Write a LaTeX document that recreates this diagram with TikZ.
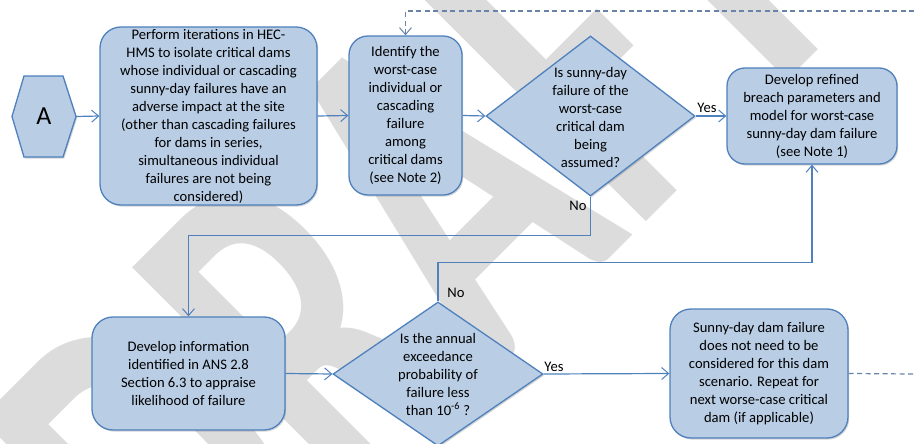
\documentclass[tikz,border=0pt]{standalone}
\usepackage{fontspec}
\setmainfont{Carlito}
\usetikzlibrary{arrows.meta,shapes.geometric,shadows,calc}

\definecolor{boxfill}{RGB}{185,205,229}
\definecolor{boxline}{RGB}{79,129,189}
\definecolor{wmark}{RGB}{220,220,220}
\definecolor{dashline}{RGB}{105,130,168}

\newcommand\bodyfont{\fontsize{14.6}{18}\selectfont}

\tikzset{
  shade box/.style={drop shadow={shadow xshift=1.2pt, shadow yshift=-1.6pt, opacity=0.28, fill=black!60}},
  procbox/.style={draw=boxline, fill=boxfill, line width=1.3pt, rounded corners=19pt,
    align=center, inner sep=0pt, font=\bodyfont, shade box},
  decision/.style={shape=diamond, draw=boxline, fill=boxfill, line width=1.3pt,
    inner sep=0pt, shade box},
  dtext/.style={align=center, inner sep=0pt, font=\bodyfont},
  tip/.style={-{Straight Barb[length=7pt,width=12pt,line width=1pt]}},
  conn/.style={draw=boxline, line width=1.2pt, tip},
  dashconn/.style={draw=dashline, line width=1.2pt, dash pattern=on 5pt off 3.5pt},
  lbl/.style={inner sep=0pt, anchor=base, font=\bodyfont},
}

\begin{document}
\begin{tikzpicture}[x=1pt,y=-1pt]
\useasboundingbox (0,0) rectangle (914,444);

% watermark behind the chart
\node[rotate=45, anchor=base, inner sep=0pt, text=wmark,
      font=\fontsize{340}{340}\selectfont\bfseries] (wm) at (532,336)
      {\scalebox{1}[1.5]{DRAFT}};

% start marker
\fill[boxfill, shade box] (12,116.5) -- (24,76) -- (63,76) -- (76,116.5) -- (63,157) -- (24,157) -- cycle;
\draw[boxline, line width=1.3pt] (12,116.5) -- (24,76) -- (63,76) -- (76,116.5) -- (63,157) -- (24,157) -- cycle;
\node[inner sep=0pt, minimum width=64pt, minimum height=81pt,
      font=\fontsize{26}{30}\selectfont] (hexA) at (44,116.5) {A};

% process boxes
\node[procbox, minimum width=217pt, minimum height=178pt, rounded corners=21pt] (iter) at (208.5,116)
  {Perform iterations in HEC-\\HMS to isolate critical dams\\whose individual or cascading\\sunny-day failures have an\\adverse impact at the site\\(other than cascading failures\\for dams in series,\\simultaneous individual\\failures are not being\\considered)};

\node[procbox, minimum width=113pt, minimum height=159pt] (worst) at (405.5,115.5)
  {Identify the\\worst-case\\individual or\\cascading\\failure\\among\\critical dams\\(see Note 2)};

\node[decision, minimum width=209pt, minimum height=160pt] (sunny) at (590.5,116) {};
\node[dtext] (sunnyt) at (590.5,117)
  {Is sunny-day\\failure of the\\worst-case\\critical dam\\being\\assumed?};

\node[procbox, minimum width=170pt, minimum height=96pt, rounded corners=18pt] (breach) at (812,116)
  {Develop refined\\breach parameters and\\model for worst-case\\sunny-day dam failure\\(see Note 1)};

\node[procbox, minimum width=193pt, minimum height=113pt, rounded corners=21pt] (info) at (188.5,373.5)
  {Develop information\\identified in ANS 2.8\\Section 6.3 to appraise\\likelihood of failure};

\node[decision, minimum width=210pt, minimum height=144pt] (prob) at (438,374) {};
\node[dtext] (probt) at (438,374)
  {Is the annual\\exceedance\\probability of\\failure less\\than 10\textsuperscript{-6} ?};

\node[procbox, minimum width=178pt, minimum height=129pt, rounded corners=21pt] (skip) at (759,373.5)
  {Sunny-day dam failure\\does not need to be\\considered for this dam\\scenario. Repeat for\\next worse-case critical\\dam (if applicable)};

% loose ends of the dashed return path
\coordinate (loopTop) at (914,11);
\coordinate (loopEnd) at (914,374);

% connectors
\draw[conn] (hexA.east) -- (iter.west);
\draw[conn] (iter.east) -- (worst.west);
\draw[conn] (worst.east) -- (sunny.west);
\draw[conn] (sunny.east) -- (breach.west);
\draw[conn] (sunny.south) -- ++(0,39) -| (info.north);
\draw[conn] (info.east) -- (prob.west);
\draw[conn] (prob.north) -- ++(0,-39) -| (breach.south);
\draw[conn] (prob.east) -- (skip.west);
\draw[dashconn] (skip.east) -- (loopEnd);
\draw[dashconn, tip] (loopTop) -| (worst.north);

% branch labels
\node[lbl] (yes1) at (707,113) {Yes};
\node[lbl] (no1) at (578,210) {No};
\node[lbl] (no2) at (456,297) {No};
\node[lbl] (yes2) at (554,371) {Yes};
\end{tikzpicture}
\end{document}
